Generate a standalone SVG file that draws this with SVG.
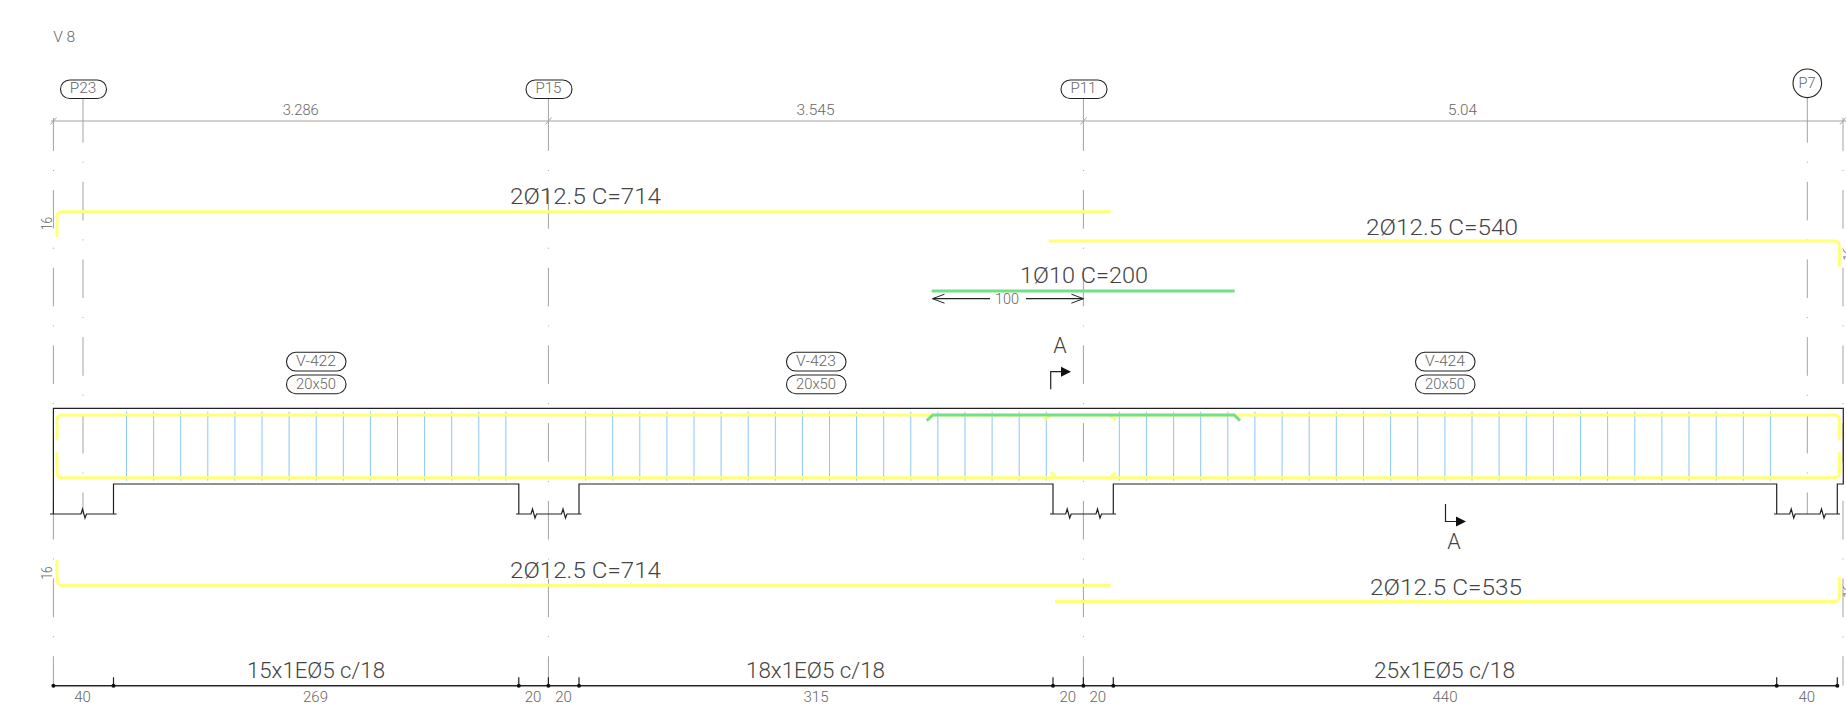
<svg xmlns="http://www.w3.org/2000/svg" width="1846" height="719" viewBox="0 0 1846 719">
<style>
text{font-family:"Roboto","Liberation Sans",sans-serif;font-weight:300;text-anchor:middle}
.s{font-size:15px;fill:#666}
.b{font-size:21.5px;fill:#444;text-anchor:start}
.c{fill:none;stroke:#a3a3a3;stroke-width:1;stroke-dasharray:38.7 19 1 19}
.g{fill:none;stroke:#a3a3a3;stroke-width:1}
.k{fill:none;stroke:#222;stroke-width:1.2}
.t{fill:#fff;stroke:#222;stroke-width:1.1}
.y{fill:none;stroke:#ffff7a;stroke-width:3}
.gr{fill:none;stroke:#72e08a;stroke-width:3}
.bl{fill:none;stroke:#8cc6fa;stroke-width:1}
</style>
<defs>
<marker id="open" markerWidth="14" markerHeight="12" refX="13" refY="6" orient="auto-start-reverse" markerUnits="userSpaceOnUse"><path d="M1 1.5L13 6L1 10.5" fill="none" stroke="#222" stroke-width="1"/></marker>
</defs>
<g id="connectors">
<g id="axes">
<path class="c" stroke-dashoffset="5.7" d="M53.4 118V685.7"/>
<path class="c" stroke-dashoffset="5.7" d="M1843 118V685.7"/>
<path class="c" stroke-dashoffset="5.7" d="M548.4 118V685.7"/>
<path class="c" stroke-dashoffset="5.7" d="M1083.4 118V685.7"/>
<path class="c" d="M83 104V514"/>
<path class="c" d="M1807.3 104V514"/>
<path class="g" d="M83 98V104M1807.3 98V104M548.4 98V118M1083.4 98V118"/>
</g>
<g id="dimension-top">
<path class="g" stroke-width="1.4" d="M51 121H1846M50.5 124.5L56.5 117.5M545.5 124.5L551.5 117.5M1080.5 124.5L1086.5 117.5M1840 124.5L1846 117.5"/>
</g>
<g id="stirrups">
<path class="bl" d="M126.5 411.7V480.7M153.6 411.7V480.7M180.7 411.7V480.7M207.8 411.7V480.7M234.9 411.7V480.7M262 411.7V480.7M289.1 411.7V480.7M316.2 411.7V480.7M343.3 411.7V480.7M370.4 411.7V480.7M397.5 411.7V480.7M424.6 411.7V480.7M451.7 411.7V480.7M478.8 411.7V480.7M505.9 411.7V480.7"/>
<path class="bl" d="M585.6 411.7V480.7M612.7 411.7V480.7M639.8 411.7V480.7M666.9 411.7V480.7M694 411.7V480.7M721.1 411.7V480.7M748.2 411.7V480.7M775.3 411.7V480.7M802.4 411.7V480.7M829.5 411.7V480.7M856.6 411.7V480.7M883.7 411.7V480.7M910.8 411.7V480.7M937.9 411.7V480.7M965 411.7V480.7M992.1 411.7V480.7M1019.2 411.7V480.7M1046.3 411.7V480.7"/>
<path class="bl" d="M1119.3 411.7V480.7M1146.4 411.7V480.7M1173.6 411.7V480.7M1200.7 411.7V480.7M1227.8 411.7V480.7M1254.9 411.7V480.7M1282.1 411.7V480.7M1309.2 411.7V480.7M1336.3 411.7V480.7M1363.5 411.7V480.7M1390.6 411.7V480.7M1417.7 411.7V480.7M1444.9 411.7V480.7M1472 411.7V480.7M1499.1 411.7V480.7M1526.3 411.7V480.7M1553.4 411.7V480.7M1580.5 411.7V480.7M1607.6 411.7V480.7M1634.8 411.7V480.7M1661.9 411.7V480.7M1689 411.7V480.7M1716.2 411.7V480.7M1743.3 411.7V480.7M1770.4 411.7V480.7"/>
</g>
<g id="beam">
<path class="k" d="M53.4 514V408.3H1843.3V484H1837.3V514M113.5 514V484H518.8V514M579 514V484H1053V514M1113.3 514V484H1776.7V514"/>
<path class="k" d="M50 514H81L82.5 509L85 518L86.5 514H116.6"/>
<path class="k" d="M516 514H531L532.5 509L535 518L536.5 514H561.5L563 509L565.5 518L567 514H581.5"/>
<path class="k" d="M1050 514H1065.7L1067.2 509L1069.7 518L1071.2 514H1096L1097.5 509L1100 518L1101.5 514H1116"/>
<path class="k" d="M1774 514H1789.7L1791.2 509L1793.7 518L1795.2 514H1820L1821.5 509L1824 518L1825.5 514H1840"/>
</g>
<g id="rebar-yellow">
<path class="y" d="M57 237V216.7Q57 211.7 62 211.7H1110.7"/>
<path class="y" d="M1048.7 241H1834.3Q1839.3 241 1839.3 246V266.7"/>
<path class="y" d="M57 560V580.3Q57 585.3 62 585.3H1110.7"/>
<path class="y" d="M1055 601.5H1834.3Q1839.3 601.5 1839.3 596.5V576.7"/>
<path class="y" d="M57 440V420Q57 415 62 415H1834.3Q1839.3 415 1839.3 420V440"/>
<path class="y" d="M57 452.3V472.7Q57 477.7 62 477.7H1834.3Q1839.3 477.7 1839.3 472.7V452.3"/>
<path class="y" d="M1044 420L1050 415.5M1110 415.5L1115.7 420.7M1050.7 472.3L1056.7 477.7M1115.7 472.3L1110 477.7"/>
</g>
<g id="rebar-green">
<path class="gr" d="M931.7 291H1234.7"/>
<path class="gr" d="M926.7 420.7L933 415H1234L1240 420.7"/>
</g>
<g id="dim-100">
<path class="k" marker-start="url(#open)" d="M932.5 298.7H990"/>
<path class="k" marker-end="url(#open)" d="M1026 298.7H1083.4"/>
</g>
<g id="dimension-bottom">
<path fill="none" stroke="#bbb" stroke-width="1" d="M53.4 686.6H1837.3"/>
<path class="k" d="M53.4 685.7H1837.3M113.5 677.3V685.7M518.8 677.3V685.7M548.4 677.3V685.7M579 677.3V685.7M1053 677.3V685.7M1083.4 677.3V685.7M1113.3 677.3V685.7M1776.7 677.3V685.7M1837.3 677.3V685.7"/>
<g fill="#111"><circle cx="53.4" cy="685.7" r="2"/><circle cx="113.5" cy="685.7" r="2"/><circle cx="518.8" cy="685.7" r="2"/><circle cx="548.4" cy="685.7" r="2"/><circle cx="579" cy="685.7" r="2"/><circle cx="1053" cy="685.7" r="2"/><circle cx="1083.4" cy="685.7" r="2"/><circle cx="1113.3" cy="685.7" r="2"/><circle cx="1776.7" cy="685.7" r="2"/><circle cx="1837.3" cy="685.7" r="2"/></g>
</g>
</g>
<g id="title"><text class="s" x="64.2" y="41.7" textLength="22" lengthAdjust="spacingAndGlyphs">V 8</text></g>
<g id="P23"><rect class="t" x="60.5" y="80" width="46" height="18.5" rx="9.2"/><text class="s" x="83" y="92.7" textLength="26.5" lengthAdjust="spacingAndGlyphs">P23</text></g>
<g id="P15"><rect class="t" x="526" y="80" width="46" height="18.5" rx="9.2"/><text class="s" x="548.4" y="92.7" textLength="26" lengthAdjust="spacingAndGlyphs">P15</text></g>
<g id="P11"><rect class="t" x="1061" y="80" width="46" height="18.5" rx="9.2"/><text class="s" x="1083.4" y="92.7" textLength="26" lengthAdjust="spacingAndGlyphs">P11</text></g>
<g id="P7"><circle class="t" cx="1807.3" cy="83.3" r="14.3"/><text class="s" x="1807" y="87.5" textLength="17" lengthAdjust="spacingAndGlyphs">P7</text></g>
<g id="span-lengths">
<text class="s" x="300.7" y="115" textLength="36" lengthAdjust="spacingAndGlyphs">3.286</text>
<text class="s" x="815.5" y="115" textLength="38" lengthAdjust="spacingAndGlyphs">3.545</text>
<text class="s" x="1462.5" y="115" textLength="29" lengthAdjust="spacingAndGlyphs">5.04</text>
</g>
<g id="bar-labels">
<text class="b" x="510" y="204" textLength="151" lengthAdjust="spacingAndGlyphs">2Ø12.5 C=714</text>
<text class="b" x="1366" y="235" textLength="152" lengthAdjust="spacingAndGlyphs">2Ø12.5 C=540</text>
<text class="b" x="1020" y="283" textLength="128" lengthAdjust="spacingAndGlyphs">1Ø10 C=200</text>
<text class="b" x="510" y="578" textLength="151" lengthAdjust="spacingAndGlyphs">2Ø12.5 C=714</text>
<text class="b" x="1370" y="594.6" textLength="152" lengthAdjust="spacingAndGlyphs">2Ø12.5 C=535</text>
<text class="s" x="1007" y="304" textLength="24" lengthAdjust="spacingAndGlyphs">100</text>
<text class="s" transform="translate(52 223.5) rotate(-90)" textLength="13" lengthAdjust="spacingAndGlyphs">16</text>
<text class="s" transform="translate(52 573) rotate(-90)" textLength="13" lengthAdjust="spacingAndGlyphs">16</text>
<text class="s" transform="translate(1854 254) rotate(-90)" textLength="13" lengthAdjust="spacingAndGlyphs">16</text>
<text class="s" transform="translate(1854 591) rotate(-90)" textLength="13" lengthAdjust="spacingAndGlyphs">16</text>
</g>
<g id="V-422"><rect class="t" x="286.5" y="352.3" width="59.5" height="18.7" rx="9.3"/><text class="s" x="316" y="366" textLength="40" lengthAdjust="spacingAndGlyphs">V-422</text></g>
<g id="V-422-size"><rect class="t" x="286.5" y="375" width="59.5" height="18.7" rx="9.3"/><text class="s" x="316" y="388.5" textLength="40" lengthAdjust="spacingAndGlyphs">20x50</text></g>
<g id="V-423"><rect class="t" x="786.5" y="352.3" width="59.5" height="18.7" rx="9.3"/><text class="s" x="816" y="366" textLength="40" lengthAdjust="spacingAndGlyphs">V-423</text></g>
<g id="V-423-size"><rect class="t" x="786.5" y="375" width="59.5" height="18.7" rx="9.3"/><text class="s" x="816" y="388.5" textLength="40" lengthAdjust="spacingAndGlyphs">20x50</text></g>
<g id="V-424"><rect class="t" x="1415.5" y="352.3" width="59.5" height="18.7" rx="9.3"/><text class="s" x="1445" y="366" textLength="40" lengthAdjust="spacingAndGlyphs">V-424</text></g>
<g id="V-424-size"><rect class="t" x="1415.5" y="375" width="59.5" height="18.7" rx="9.3"/><text class="s" x="1445" y="388.5" textLength="40" lengthAdjust="spacingAndGlyphs">20x50</text></g>
<g id="section-top"><text class="b" style="text-anchor:middle" x="1060" y="353">A</text><path class="k" d="M1050.7 389.3V371.7H1062"/><path d="M1061 366.7L1071 371.7L1061 376.7Z" fill="#111"/></g>
<g id="section-bottom"><text class="b" style="text-anchor:middle" x="1454" y="549">A</text><path class="k" d="M1445.5 504V521.5H1457"/><path d="M1456 516.5L1466 521.5L1456 526.5Z" fill="#111"/></g>
<g id="stirrup-labels">
<text class="b" x="247" y="678.3" textLength="138" lengthAdjust="spacingAndGlyphs">15x1EØ5 c/18</text>
<text class="b" x="746" y="678.3" textLength="139" lengthAdjust="spacingAndGlyphs">18x1EØ5 c/18</text>
<text class="b" x="1374" y="678.3" textLength="141" lengthAdjust="spacingAndGlyphs">25x1EØ5 c/18</text>
</g>
<g id="dimension-values">
<text class="s" x="82.6" y="701.7">40</text>
<text class="s" x="315.5" y="701.7">269</text>
<text class="s" x="533" y="701.7">20</text>
<text class="s" x="563.5" y="701.7">20</text>
<text class="s" x="816" y="701.7">315</text>
<text class="s" x="1067.7" y="701.7">20</text>
<text class="s" x="1097.7" y="701.7">20</text>
<text class="s" x="1445" y="701.7">440</text>
<text class="s" x="1806.7" y="701.7">40</text>
</g>
</svg>
